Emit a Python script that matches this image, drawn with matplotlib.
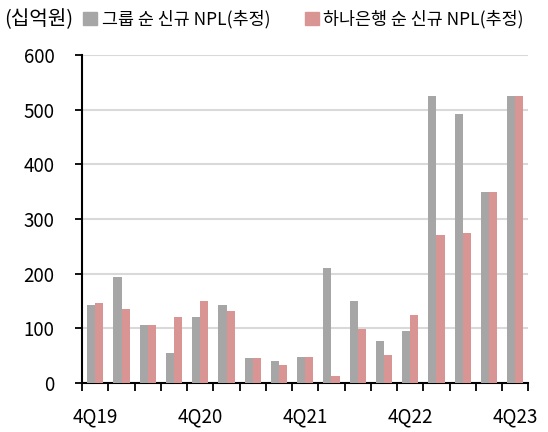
import numpy as np
import matplotlib.pyplot as plt
from matplotlib.patches import Patch

plt.rcParams['font.family'] = ['Noto Sans CJK KR', 'DejaVu Sans']
plt.rcParams['font.weight'] = 'light'

quarters = ['4Q19', '1Q20', '2Q20', '3Q20', '4Q20', '1Q21', '2Q21', '3Q21', '4Q21',
            '1Q22', '2Q22', '3Q22', '4Q22', '1Q23', '2Q23', '3Q23', '4Q23']
group_npl = [143, 194, 106, 55, 121, 143, 45, 41, 48, 211, 150, 77, 96, 525, 492, 350, 525]
hana_npl = [147, 135, 106, 121, 150, 132, 45, 33, 48, 12, 99, 51, 124, 270, 274, 350, 525]
shown_labels = {'4Q19', '4Q20', '4Q21', '4Q22', '4Q23'}

GRAY = '#a6a6a6'
PINK = '#d99594'

fig = plt.figure(figsize=(5.48, 4.32), dpi=100)
ax = fig.add_axes([0.150, 0.1134, 0.814, 0.7593])

x = np.arange(len(quarters))
w = 0.31
ax.bar(x - w, group_npl, w, align='edge', color=GRAY, zorder=3)
ax.bar(x, hana_npl, w, align='edge', color=PINK, zorder=3)

ax.set_xlim(-0.5, len(quarters) - 0.5)
ax.set_ylim(0, 600)
ax.set_yticks(range(0, 601, 100))
ax.yaxis.grid(True, color='#d9d9d9', linewidth=1.5, zorder=0)
ax.tick_params(axis='y', length=5, width=1.3, pad=15, labelsize=13.5)

ax.set_xticks(x)
ax.set_xticklabels([q if q in shown_labels else '' for q in quarters])
ax.set_xticks(np.arange(-0.5, len(quarters)), minor=True)
ax.tick_params(axis='x', which='major', length=0, pad=17, labelsize=13.5)
ax.tick_params(axis='x', which='minor', length=6, width=1.3, direction='out')

for s in ['top', 'right']:
    ax.spines[s].set_visible(False)
for s in ['left', 'bottom']:
    ax.spines[s].set_linewidth(1.5)

fig.text(0.008, 0.955, '(십억원)', fontsize=14.5, va='center', ha='left')
handles = [Patch(color=GRAY, label='그룹 순 신규 NPL(추정)'),
           Patch(color=PINK, label='하나은행 순 신규 NPL(추정)')]
fig.legend(handles=handles, loc='center left', bbox_to_anchor=(0.152, 0.955), ncol=2,
           frameon=False, fontsize=12.5, handlelength=0.8, handleheight=0.8,
           handletextpad=0.25, columnspacing=2.0, borderaxespad=0, borderpad=0)

fig.savefig('out.png', dpi=100)
